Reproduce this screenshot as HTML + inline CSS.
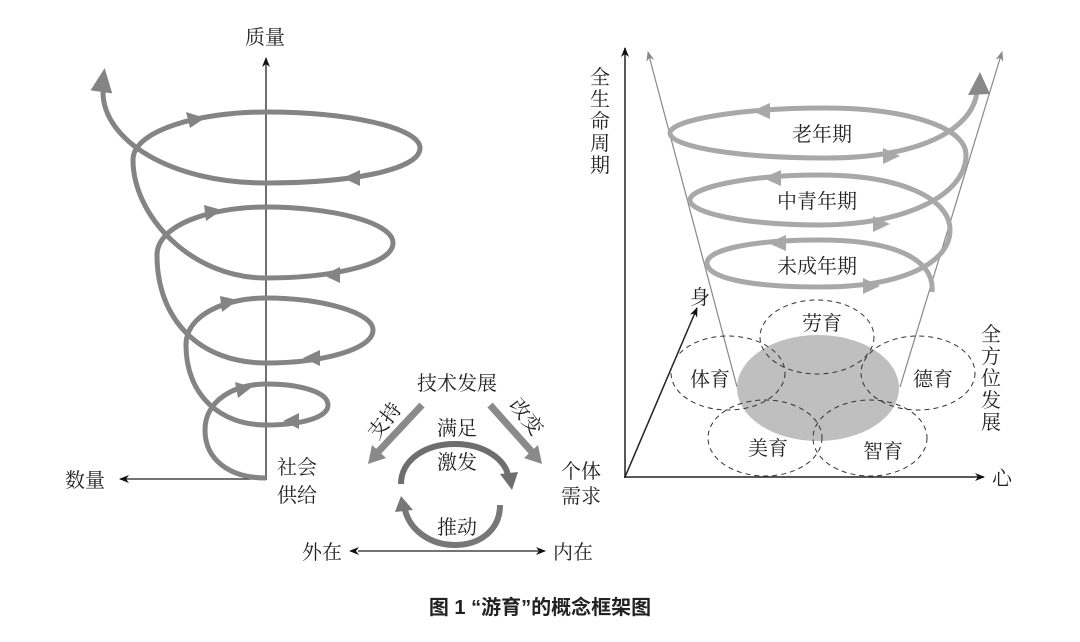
<!DOCTYPE html>
<html><head><meta charset="utf-8"><style>
body{margin:0;background:#fff;}
svg{display:block;}
text{font-family:"Liberation Serif","Noto Serif CJK SC",serif;fill:#222;}
text.cap{font-family:"Liberation Sans","Noto Sans CJK SC",sans-serif;}
</style></head><body>
<svg width="1080" height="642" viewBox="0 0 1080 642" xmlns="http://www.w3.org/2000/svg">
<defs>
<marker id="ab" markerWidth="10" markerHeight="8" refX="9" refY="4" orient="auto" markerUnits="userSpaceOnUse"><path d="M0,0 L10,4 L0,8 L3,4 Z" fill="#111"/></marker>
<marker id="ag" markerWidth="10" markerHeight="8" refX="9" refY="4" orient="auto" markerUnits="userSpaceOnUse"><path d="M0,0 L10,4 L0,8 L3,4 Z" fill="#888"/></marker>
<marker id="abs" markerWidth="10" markerHeight="8" refX="1" refY="4" orient="auto-start-reverse" markerUnits="userSpaceOnUse"><path d="M0,0 L10,4 L0,8 L3,4 Z" fill="#111"/></marker>
</defs>

<!-- LEFT SPIRAL -->
<line x1="266" y1="480" x2="266" y2="58" stroke="#222" stroke-width="1.3" marker-end="url(#ab)"/>
<line x1="266" y1="479" x2="120" y2="479" stroke="#222" stroke-width="1.3" marker-end="url(#ab)"/>
<path d="M266,478 C230,478 205,460 205,430 C205,400 235,384 266,384 C300,384 328,392 328,405 C328,418 300,425 266,425 C220,425 186,395 186,345 C186,315 225,298 266,298 C320,298 373,312 373,330 C373,350 320,363 266,363 C200,363 157,320 157,255 C157,225 210,207 266,207 C330,207 393,222 393,243 C393,265 330,278 266,278 C190,278 133,215 133,160 C133,130 200,112 266,112 C350,112 420,128 420,148 C420,170 350,183 266,183 C170,183 103,140 103,92" fill="none" stroke="#848484" stroke-width="5"/>
<polygon points="103,68 92,92 114,92" fill="#848484" transform="rotate(8 103,80)"/>
<g fill="#848484">
<polygon points="205,118 186,112 190,128"/>
<polygon points="343,178 360,170 360,186"/>
<polygon points="222,210 204,205 206,221"/>
<polygon points="323,275 340,267 340,283"/>
<polygon points="238,300 220,296 222,312"/>
<polygon points="303,358 320,350 320,366"/>
<polygon points="252,387 235,382 238,398"/>
<polygon points="283,421 299,413 299,429"/>
</g>
<text x="245" y="44" font-size="20">质量</text>
<text x="65" y="487" font-size="20">数量</text>
<text x="277" y="474" font-size="20">社会</text>
<text x="277" y="502" font-size="20">供给</text>

<!-- MIDDLE -->
<text x="457" y="390" font-size="20" text-anchor="middle">技术发展</text>
<line x1="422" y1="405" x2="378" y2="452" stroke="#8a8a8a" stroke-width="7"/>
<polygon points="368,464 372,445 386,458" fill="#8a8a8a"/>
<line x1="490" y1="405" x2="532" y2="452" stroke="#8a8a8a" stroke-width="7"/>
<polygon points="542,464 524,458 538,445" fill="#8a8a8a"/>
<text x="0" y="0" font-size="20" text-anchor="middle" transform="translate(390,425) rotate(-52)">支持</text>
<text x="0" y="0" font-size="20" text-anchor="middle" transform="translate(521,421) rotate(52)">改变</text>
<text x="457" y="435" font-size="20" text-anchor="middle">满足</text>
<text x="457" y="469" font-size="20" text-anchor="middle">激发</text>
<path d="M401,484 C401,460 425,444 455,444 C485,444 505,460 508,475" fill="none" stroke="#6e6e6e" stroke-width="6"/>
<polygon points="512,490 500,474 518,472" fill="#6e6e6e"/>
<path d="M500,505 C500,530 480,545 455,545 C430,545 410,530 405,510" fill="none" stroke="#777" stroke-width="6"/>
<polygon points="401,496 395,512 413,510" fill="#777"/>
<text x="457" y="534" font-size="20" text-anchor="middle">推动</text>
<text x="561" y="478" font-size="20">个体</text>
<text x="561" y="503" font-size="20">需求</text>
<text x="302" y="559" font-size="20">外在</text>
<text x="553" y="559" font-size="20">内在</text>
<line x1="358" y1="551" x2="545" y2="551" stroke="#222" stroke-width="1.3" marker-start="url(#abs)" marker-end="url(#ab)"/>

<!-- RIGHT -->
<line x1="625" y1="478" x2="625" y2="48" stroke="#222" stroke-width="1.5" marker-end="url(#ab)"/>
<line x1="624" y1="477" x2="984" y2="477" stroke="#222" stroke-width="1.5" marker-end="url(#ab)"/>
<line x1="625" y1="477" x2="697" y2="308" stroke="#222" stroke-width="1.5" marker-end="url(#ab)"/>
<line x1="737" y1="387" x2="648" y2="52" stroke="#888" stroke-width="1.2" marker-end="url(#ag)"/>
<line x1="900" y1="387" x2="1002" y2="52" stroke="#888" stroke-width="1.2" marker-end="url(#ag)"/>
<ellipse cx="818" cy="388" rx="81" ry="53" fill="#bfbfbf"/>
<g fill="none" stroke="#333" stroke-width="1" stroke-dasharray="5,4">
<ellipse cx="817" cy="337" rx="57" ry="37"/>
<ellipse cx="728" cy="373" rx="57" ry="37"/>
<ellipse cx="918" cy="373" rx="57" ry="37"/>
<ellipse cx="765" cy="438" rx="57" ry="38"/>
<ellipse cx="870" cy="438" rx="57" ry="38"/>
</g>
<text x="822" y="330" font-size="20" text-anchor="middle">劳育</text>
<text x="710" y="386" font-size="20" text-anchor="middle">体育</text>
<text x="933" y="386" font-size="20" text-anchor="middle">德育</text>
<text x="768" y="455" font-size="20" text-anchor="middle">美育</text>
<text x="883" y="458" font-size="20" text-anchor="middle">智育</text>
<text x="700" y="304" font-size="20" text-anchor="middle">身</text>
<text x="992" y="485" font-size="20">心</text>
<g font-size="20" text-anchor="middle">
<text x="600" y="84">全</text><text x="600" y="106">生</text><text x="600" y="128">命</text><text x="600" y="150">周</text><text x="600" y="172">期</text>
<text x="991" y="341">全</text><text x="991" y="363">方</text><text x="991" y="385">位</text><text x="991" y="407">发</text><text x="991" y="429">展</text>
</g>
<path d="M932,292 C935,262 900,240 820,240 C750,240 707,250 707,263 C707,278 750,287 820,287 C905,287 950,262 950,230 C950,198 900,175 820,175 C745,175 690,188 690,200 C690,213 745,225 820,225 C905,225 966,195 966,155 C966,125 900,108 825,108 C740,108 670,120 670,133 C670,147 740,158 825,158 C920,158 972,130 977,92" fill="none" stroke="#a8a8a8" stroke-width="5"/>
<polygon points="980,72 968,95 990,94" fill="#888"/>
<g fill="#a8a8a8">
<polygon points="752,111 770,103 770,119"/>
<polygon points="900,156 883,148 883,164"/>
<polygon points="763,178 781,170 781,186"/>
<polygon points="890,224 873,216 873,232"/>
<polygon points="768,243 786,235 786,251"/>
<polygon points="880,286 863,278 863,294"/>
</g>
<text x="822" y="141" font-size="20" text-anchor="middle">老年期</text>
<text x="817" y="208" font-size="20" text-anchor="middle">中青年期</text>
<text x="817" y="273" font-size="20" text-anchor="middle">未成年期</text>

<!-- CAPTION -->
<text class="cap" x="540" y="614" font-size="20" font-weight="bold" text-anchor="middle">图 1 “游育”的概念框架图</text>
</svg>
</body></html>
